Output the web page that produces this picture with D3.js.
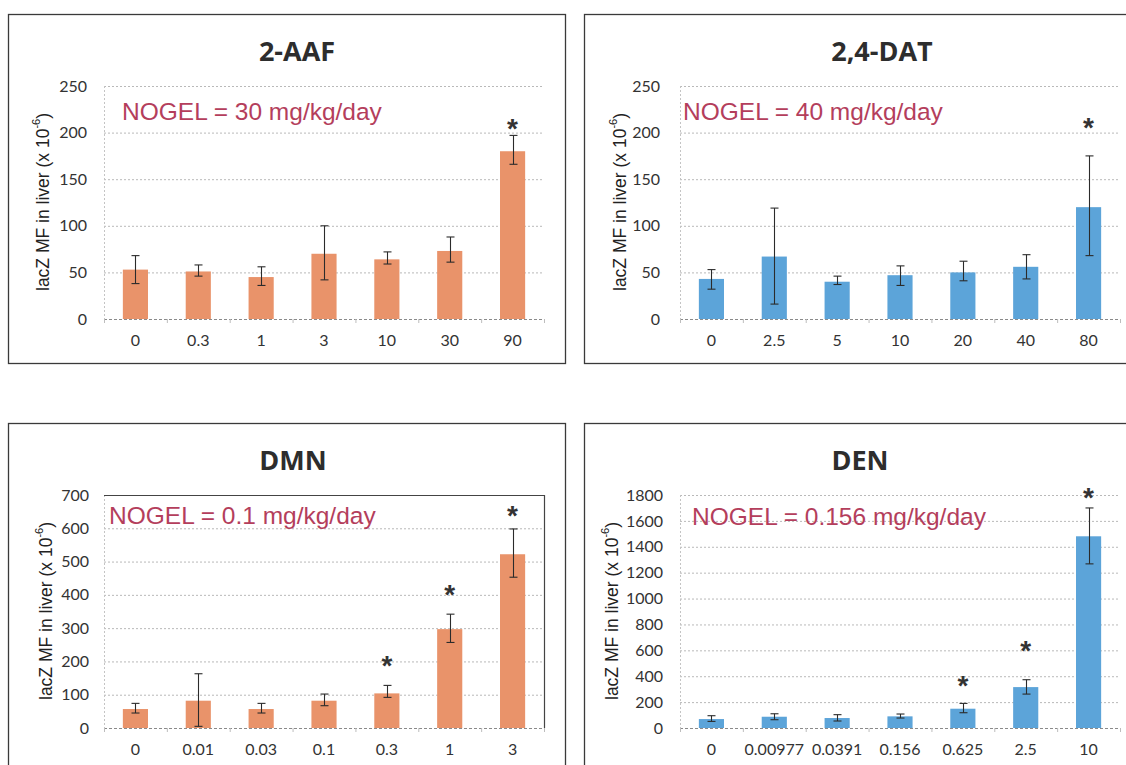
<!DOCTYPE html>
<html>
<head>
<meta charset="utf-8">
<script src="https://cdn.jsdelivr.net/npm/d3@7"></script>
<style>
  html, body { margin: 0; padding: 0; background: #ffffff; }
  svg { display: block; }
</style>
</head>
<body>
<svg id="chart" width="1126" height="765"></svg>
<script>
// ---------------- DATA ----------------
const aafTitle = "2-AAF";
const aafNogel = "NOGEL = 30 mg/kg/day";
const aafDoses = ["0", "0.3", "1", "3", "10", "30", "90"];
const aafMean  = [53, 51, 45, 70, 64, 73, 180];
const aafLow   = [38, 46, 36, 42, 59, 61, 166];
const aafHigh  = [68, 58, 56, 100, 72, 88, 197];
const aafStar  = [null, null, null, null, null, null, 211];
const aafTicks = [0, 50, 100, 150, 200, 250];

const datTitle = "2,4-DAT";
const datNogel = "NOGEL = 40 mg/kg/day";
const datDoses = ["0", "2.5", "5", "10", "20", "40", "80"];
const datMean  = [43, 67, 40, 47, 50, 56, 120];
const datLow   = [32, 16, 37, 36, 41, 43, 68];
const datHigh  = [53, 119, 46, 57, 62, 69, 175];
const datStar  = [null, null, null, null, null, null, 212];
const datTicks = [0, 50, 100, 150, 200, 250];

const dmnTitle = "DMN";
const dmnNogel = "NOGEL = 0.1 mg/kg/day";
const dmnDoses = ["0", "0.01", "0.03", "0.1", "0.3", "1", "3"];
const dmnMean  = [57, 82, 57, 82, 104, 297, 522];
const dmnLow   = [45, 5, 45, 67, 92, 257, 453];
const dmnHigh  = [74, 163, 74, 102, 128, 342, 598];
const dmnStar  = [null, null, null, null, 206, 421, 658];
const dmnTicks = [0, 100, 200, 300, 400, 500, 600, 700];

const denTitle = "DEN";
const denNogel = "NOGEL = 0.156 mg/kg/day";
const denDoses = ["0", "0.00977", "0.0391", "0.156", "0.625", "2.5", "10"];
const denMean  = [69, 87, 77, 90, 149, 316, 1481];
const denLow   = [51, 64, 54, 77, 118, 262, 1268];
const denHigh  = [95, 110, 103, 108, 190, 373, 1700];
const denStar  = [null, null, null, null, 380, 652, 1834];
const denTicks = [0, 200, 400, 600, 800, 1000, 1200, 1400, 1600, 1800];

const yAxisLabel = "lacZ MF in liver (x 10";
const yAxisSup = "-6";

// ---------------- STYLE / LAYOUT ----------------
const ORANGE = "#E9936A";
const BLUE = "#5CA4D9";
const NOGEL_COLOR = "#B43E5C";
const TEXT_DARK = "#333333";

const panels = [
  { ox: 8,   oy: 14,  title: aafTitle, titleX: 289, nogel: aafNogel, nogelX: 114, nogelY: 106,
    doses: aafDoses, mean: aafMean, low: aafLow, high: aafHigh, star: aafStar, ticks: aafTicks,
    color: ORANGE, yTitleX: 35, tickRight: 79, frame: false },
  { ox: 584, oy: 14,  title: datTitle, titleX: 298, nogel: datNogel, nogelX: 99, nogelY: 106,
    doses: datDoses, mean: datMean, low: datLow, high: datHigh, star: datStar, ticks: datTicks,
    color: BLUE, yTitleX: 36, tickRight: 76, frame: false },
  { ox: 8,   oy: 423, title: dmnTitle, titleX: 285, nogel: dmnNogel, nogelX: 101, nogelY: 101,
    doses: dmnDoses, mean: dmnMean, low: dmnLow, high: dmnHigh, star: dmnStar, ticks: dmnTicks,
    color: ORANGE, yTitleX: 38, tickRight: 81, frame: true },
  { ox: 584, oy: 423, title: denTitle, titleX: 276, nogel: denNogel, nogelX: 108, nogelY: 102,
    doses: denDoses, mean: denMean, low: denLow, high: denHigh, star: denStar, ticks: denTicks,
    color: BLUE, yTitleX: 28, tickRight: 79, frame: false }
];

const PANEL_W = 557, PANEL_H = 349;
const PLOT_L = 96, PLOT_W = 440, PLOT_T = 72, PLOT_B = 305;

const svg = d3.select("#chart");

panels.forEach(p => {
  const g = svg.append("g").attr("transform", `translate(${p.ox},${p.oy})`);

  // panel border
  g.append("rect")
    .attr("x", 0.5).attr("y", 0.5)
    .attr("width", PANEL_W).attr("height", PANEL_H)
    .attr("fill", "none").attr("stroke", "#3a3a3a").attr("stroke-width", 1.3);

  const x = d3.scaleBand()
    .domain(p.doses)
    .range([PLOT_L, PLOT_L + PLOT_W])
    .paddingInner(0.6)
    .paddingOuter(0.3);

  const yMax = p.ticks[p.ticks.length - 1];
  const y = d3.scaleLinear().domain([0, yMax]).range([PLOT_B, PLOT_T]);

  // gridlines
  g.append("g").selectAll("line")
    .data(p.ticks.filter(t => t > 0))
    .join("line")
    .attr("x1", PLOT_L).attr("x2", PLOT_L + PLOT_W)
    .attr("y1", d => y(d) + 0.5).attr("y2", d => y(d) + 0.5)
    .attr("stroke", "#b9b9b9").attr("stroke-width", 1)
    .attr("stroke-dasharray", "2,2");

  // y axis line (dotted)
  g.append("line")
    .attr("x1", PLOT_L + 0.5).attr("x2", PLOT_L + 0.5)
    .attr("y1", PLOT_T).attr("y2", PLOT_B)
    .attr("stroke", "#c4c4c4").attr("stroke-dasharray", "2,2");

  // x axis baseline (dotted) with small ticks between categories
  g.append("line")
    .attr("x1", PLOT_L).attr("x2", PLOT_L + PLOT_W)
    .attr("y1", PLOT_B + 0.5).attr("y2", PLOT_B + 0.5)
    .attr("stroke", "#8a8a8a").attr("stroke-dasharray", "3,2");
  const bounds = d3.range(p.doses.length + 1).map(i => PLOT_L + i * x.step());
  g.append("g").selectAll("line")
    .data(bounds)
    .join("line")
    .attr("x1", d => d + 0.5).attr("x2", d => d + 0.5)
    .attr("y1", PLOT_B).attr("y2", PLOT_B + 4)
    .attr("stroke", "#bdbdbd");

  if (p.frame) {
    g.append("path")
      .attr("d", `M${PLOT_L},${PLOT_T + 0.5}H${PLOT_L + PLOT_W + 0.5}V${PLOT_B}`)
      .attr("fill", "none").attr("stroke", "#444").attr("stroke-width", 1.2);
  }

  // y tick labels via d3 axis
  const yAxis = d3.axisLeft(y).tickValues(p.ticks).tickFormat(d3.format("d"))
    .tickSize(0).tickPadding(0);
  const ya = g.append("g")
    .attr("transform", `translate(${p.tickRight},0)`)
    .call(yAxis);
  ya.select(".domain").remove();
  ya.selectAll("text")
    .attr("font-family", "Lato, 'Open Sans', sans-serif")
    .attr("font-size", "16px")
    .attr("fill", TEXT_DARK);

  // x tick labels via d3 axis
  const xAxis = d3.axisBottom(x).tickSize(0).tickPadding(0);
  const xa = g.append("g")
    .attr("transform", `translate(0,${PLOT_B + 16})`)
    .call(xAxis);
  xa.select(".domain").remove();
  xa.selectAll("text")
    .attr("font-family", "Lato, 'Open Sans', sans-serif")
    .attr("font-size", "16px")
    .attr("fill", TEXT_DARK);

  // bars
  const rows = p.doses.map((d, i) => ({
    dose: d, mean: p.mean[i], low: p.low[i], high: p.high[i], star: p.star[i]
  }));
  g.append("g").selectAll("rect")
    .data(rows)
    .join("rect")
    .attr("x", d => x(d.dose))
    .attr("y", d => y(d.mean))
    .attr("width", x.bandwidth())
    .attr("height", d => y(0) - y(d.mean))
    .attr("fill", p.color);

  // error bars
  const eb = g.append("g").attr("stroke", "#2b2b2b").attr("stroke-width", 1.1);
  rows.forEach(d => {
    const cx = Math.round(x(d.dose) + x.bandwidth() / 2) + 0.5;
    eb.append("line").attr("x1", cx).attr("x2", cx)
      .attr("y1", y(d.high)).attr("y2", y(d.low));
    eb.append("line").attr("x1", cx - 4).attr("x2", cx + 4)
      .attr("y1", y(d.high)).attr("y2", y(d.high));
    eb.append("line").attr("x1", cx - 4).attr("x2", cx + 4)
      .attr("y1", y(d.low)).attr("y2", y(d.low));
  });

  // significance stars
  g.append("g").selectAll("text")
    .data(rows.filter(d => d.star != null))
    .join("text")
    .attr("x", d => x(d.dose) + x.bandwidth() / 2)
    .attr("y", d => y(d.star) + 16)
    .attr("text-anchor", "middle")
    .attr("font-family", "'Liberation Sans', Arial, sans-serif")
    .attr("font-weight", "bold")
    .attr("font-size", "28px")
    .attr("fill", TEXT_DARK)
    .text("*");

  // title
  g.append("text")
    .attr("x", p.titleX).attr("y", 47)
    .attr("text-anchor", "middle")
    .attr("font-family", "'Open Sans', sans-serif")
    .attr("font-weight", "bold")
    .attr("font-size", "27px")
    .attr("fill", "#2d2d2d")
    .text(p.title);

  // NOGEL annotation
  g.append("text")
    .attr("x", p.nogelX).attr("y", p.nogelY)
    .attr("font-family", "'Liberation Sans', Arial, sans-serif")
    .attr("font-size", "24.5px")
    .attr("fill", NOGEL_COLOR)
    .text(p.nogel);

  // y axis title
  const yt = g.append("text")
    .attr("transform", `translate(${p.yTitleX},188) rotate(-90)`)
    .attr("text-anchor", "middle")
    .attr("dominant-baseline", "central")
    .attr("font-family", "'Liberation Sans', Arial, sans-serif")
    .attr("font-size", "17.5px")
    .attr("fill", "#222");
  yt.append("tspan").text(yAxisLabel);
  yt.append("tspan").attr("font-size", "11px").attr("dy", "-7").text(yAxisSup);
  yt.append("tspan").attr("dy", "7").text(")");
});
</script>
</body>
</html>
